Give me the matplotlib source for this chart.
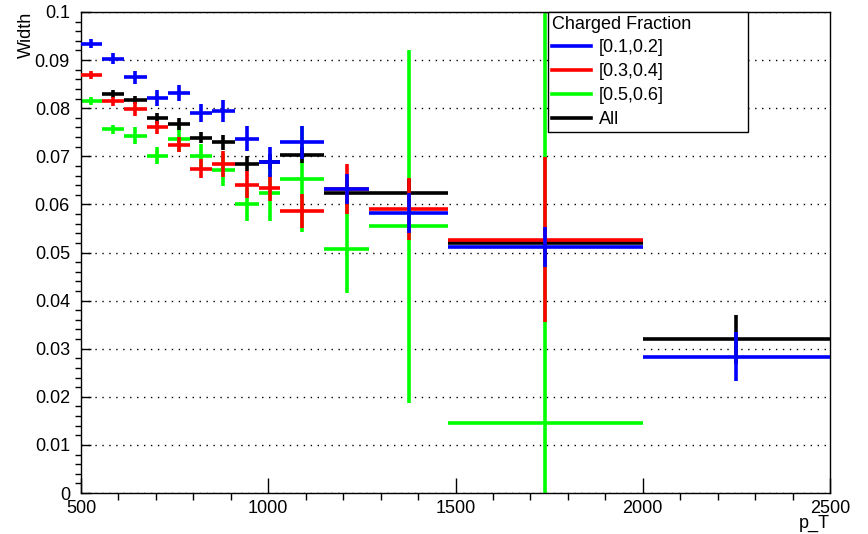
import numpy as np
import matplotlib.pyplot as plt
from matplotlib.lines import Line2D
from matplotlib.ticker import MultipleLocator, FuncFormatter

plt.rcParams['font.family'] = ['Liberation Sans', 'DejaVu Sans']

# pT bin edges
edges = np.array([500, 555, 615, 675, 733, 791, 850, 910, 975, 1032, 1150, 1270, 1480, 2000, 2500])
centers = 0.5 * (edges[1:] + edges[:-1])
halfw = 0.5 * (edges[1:] - edges[:-1])

nan = np.nan
# charged fraction [0.1,0.2]
blue_y = [0.0934, 0.0903, 0.0864, 0.0821, 0.0831, 0.0790, 0.0795, 0.0736, 0.0689, 0.0729, 0.0632, 0.0582, 0.0511, 0.0283]
blue_e = [0.0009, 0.0011, 0.0013, 0.0016, 0.0017, 0.0019, 0.0023, 0.0026, 0.0031, 0.0035, 0.0031, 0.0041, 0.0041, 0.0051]
# charged fraction [0.3,0.4]
red_y = [0.0869, 0.0814, 0.0798, 0.0760, 0.0724, 0.0674, 0.0684, 0.0641, 0.0634, 0.0586, 0.0632, 0.0590, 0.0527, nan]
red_e = [0.0009, 0.0009, 0.0014, 0.0014, 0.0016, 0.0020, 0.0026, 0.0028, 0.0027, 0.0036, 0.0052, 0.0065, 0.0172, nan]
# charged fraction [0.5,0.6]
green_y = [0.0815, 0.0756, 0.0743, 0.0701, 0.0737, 0.0700, 0.0672, 0.0600, 0.0623, 0.0653, 0.0508, 0.0555, 0.0146, nan]
green_e = [0.0008, 0.0010, 0.0017, 0.0018, 0.0028, 0.0025, 0.0034, 0.0035, 0.0057, 0.0110, 0.0092, 0.0367, 0.0880, nan]
# all
black_y = [nan, 0.0829, 0.0817, 0.0779, 0.0767, 0.0739, 0.0729, 0.0685, 0.0689, 0.0703, 0.0623, 0.0623, 0.0519, 0.0320]
black_e = [nan, 0.0008, 0.0009, 0.0011, 0.0012, 0.0012, 0.0015, 0.0015, 0.0016, 0.0017, 0.0025, 0.0030, 0.0035, 0.0051]

fig = plt.figure(figsize=(8.68, 5.34), dpi=100)
ax = fig.add_axes([81/868, 41/534, 749/868, 481/534])

series = [
    (green_y, green_e, "#00ff00", 1),
    (black_y, black_e, "black", 2),
    (red_y, red_e, "#ff0000", 3),
    (blue_y, blue_e, "#0000ff", 4),
]
for y, e, c, z in series:
    ax.errorbar(centers, y, xerr=halfw, yerr=e, fmt='none', ecolor=c,
                elinewidth=2.6, capsize=0, zorder=z)

ax.set_xlim(500, 2500)
ax.set_ylim(0, 0.1)
ax.xaxis.set_major_locator(MultipleLocator(500))
ax.xaxis.set_minor_locator(MultipleLocator(100))
ax.yaxis.set_major_locator(MultipleLocator(0.01))
ax.yaxis.set_minor_locator(MultipleLocator(0.002))
ax.yaxis.set_major_formatter(FuncFormatter(lambda v, p: "%g" % round(v, 3)))
ax.tick_params(direction='in', labelsize=13, top=False, right=False)
ax.tick_params(axis='x', which='major', length=11, width=1, pad=5)
ax.tick_params(axis='x', which='minor', length=5, width=1)
ax.tick_params(axis='y', which='major', length=7, width=1, pad=8)
ax.tick_params(axis='y', which='minor', length=4, width=1)
ax.grid(axis='y', which='major', color='black', linestyle=(0, (1, 4)), linewidth=1)
ax.set_axisbelow(True)
for s in ax.spines.values():
    s.set_linewidth(1)

ax.set_ylabel("Width", fontsize=13, loc='top')
ax.yaxis.set_label_coords(-0.062, 1.0)
ax.set_xlabel("p_T", fontsize=13, loc='right')
ax.xaxis.set_label_coords(1.0, -0.045)

handles = [Line2D([], [], color=c, lw=2.6) for c in ["#0000ff", "#ff0000", "#00ff00", "black"]]
labels = ["[0.1,0.2]", "[0.3,0.4]", "[0.5,0.6]", "All"]
leg = ax.legend(handles, labels, title="Charged Fraction", loc='upper left',
                bbox_to_anchor=(0.6235, 1.0, 0.267, 0.0), mode='expand',
                fontsize=13, title_fontsize=13, alignment='left',
                fancybox=False, framealpha=1, edgecolor='black', borderpad=0.2,
                handlelength=2.2, handletextpad=0.4, labelspacing=0.38,
                borderaxespad=0)
leg.get_frame().set_linewidth(1)
leg.set_zorder(10)

plt.savefig("out.png", dpi=100)
